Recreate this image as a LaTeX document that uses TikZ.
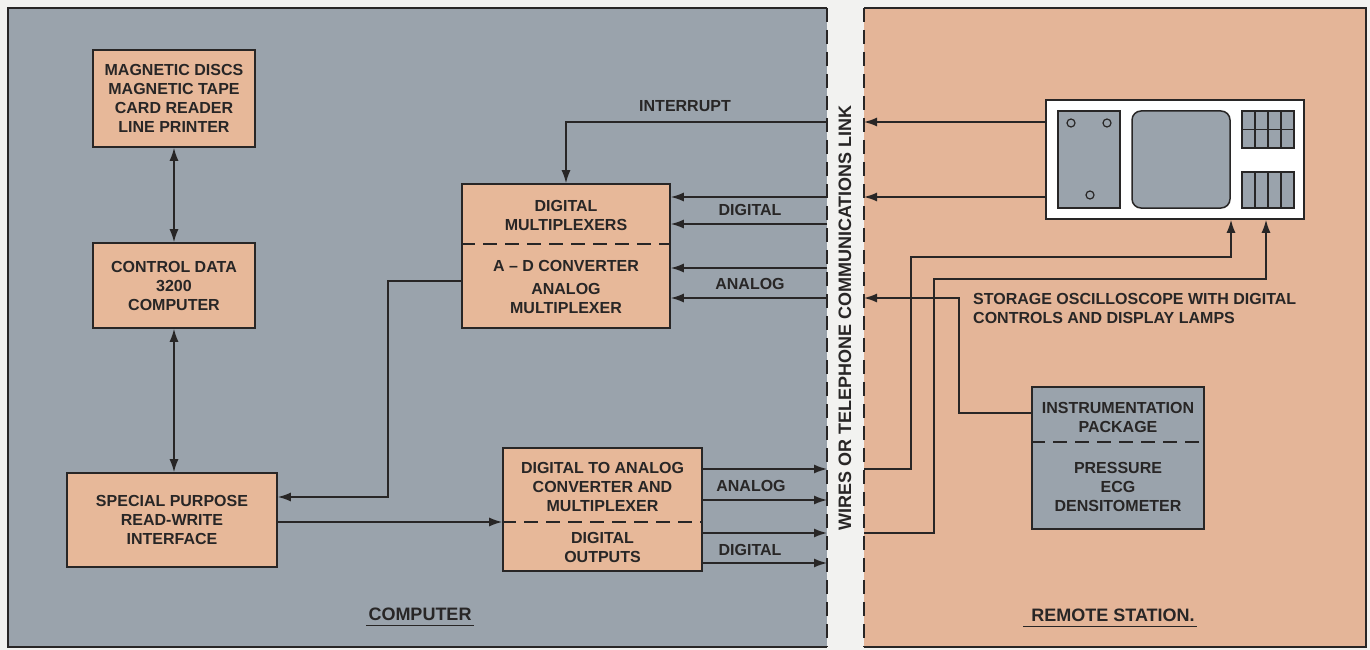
\documentclass[tikz,border=0pt]{standalone}
\usepackage{fontspec}
\setmainfont{Liberation Sans}
\usetikzlibrary{arrows.meta}
\definecolor{papel}{RGB}{242,242,240}
\definecolor{panelgris}{RGB}{154,163,172}
\definecolor{panelcanela}{RGB}{228,181,152}
\definecolor{cajacanela}{RGB}{231,184,153}
\definecolor{tinta}{RGB}{40,38,38}

\begin{document}
\begin{tikzpicture}[
    x=1pt, y=-1pt,
    every node/.style={font=\fontsize{16}{19}\selectfont\bfseries, text=tinta, inner sep=0pt, align=center},
    caja/.style={draw=tinta, fill=cajacanela, line width=1.6pt},
    linea/.style={draw=tinta, line width=1.5pt},
    flecha/.style={linea, -{Latex[length=13pt,width=9pt]}},
    doble/.style={linea, {Latex[length=13pt,width=9pt]}-{Latex[length=13pt,width=9pt]}},
    corte/.style={draw=tinta, line width=1.5pt, dash pattern=on 14pt off 8pt},
    titulo/.style={font=\fontsize{18}{21}\selectfont\bfseries}
]
    \useasboundingbox (0,0) rectangle (1370,650);
    \fill[papel] (0,0) rectangle (1370,650);

    % Paneles: computadora a la izquierda, estacion remota a la derecha
    \fill[panelgris] (8,8) rectangle (827,647);
    \draw[tinta, line width=1.6pt] (827,8) -- (8,8) -- (8,647) -- (827,647);
    \draw[corte] (827,8) -- (827,647);
    \fill[panelcanela] (864,8) rectangle (1366,647);
    \draw[tinta, line width=1.6pt] (864,8) -- (1366,8) -- (1366,647) -- (864,647);
    \draw[corte] (864,8) -- (864,647);

    % Cajas del lado de la computadora
    \node[caja, minimum width=162pt, minimum height=97pt] (discos) at (174,98.5) {MAGNETIC DISCS\\MAGNETIC TAPE\\CARD READER\\LINE PRINTER};
    \node[caja, minimum width=162pt, minimum height=85pt] (cdc) at (174,285.5) {CONTROL DATA\\3200\\COMPUTER};
    \node[caja, minimum width=210pt, minimum height=94pt] (interfaz) at (172,520) {SPECIAL PURPOSE\\READ-WRITE\\INTERFACE};

    \node[caja, minimum width=208pt, minimum height=144pt] (mux) at (566,256) {};
    \node (muxA) at (566,215) {DIGITAL\\MULTIPLEXERS};
    \node (muxB) at (566,287) {A -- D CONVERTER\\[4pt]ANALOG\\MULTIPLEXER};
    \draw[corte] (mux.west |- 0,244) -- (mux.east |- 0,244);

    \node[caja, minimum width=199pt, minimum height=123pt] (dac) at (602.5,509.5) {};
    \node (dacA) at (602.5,487) {DIGITAL TO ANALOG\\CONVERTER AND\\MULTIPLEXER};
    \node (dacB) at (602.5,547) {DIGITAL\\OUTPUTS};
    \draw[corte] (dac.west |- 0,522) -- (dac.east |- 0,522);

    % Osciloscopio de la estacion remota
    \node[caja, fill=white, minimum width=258pt, minimum height=119pt] (osc) at (1175,159.5) {};
    \draw[linea, fill=panelgris] (1058,111) rectangle (1120,208);
    \draw[tinta, line width=1.2pt] (1071,123) circle (4pt);
    \draw[tinta, line width=1.2pt] (1107,123) circle (4pt);
    \draw[tinta, line width=1.2pt] (1090,195) circle (4pt);
    \draw[linea, fill=panelgris, rounded corners=9pt] (1132,111) rectangle (1230,208);
    \draw[linea, fill=panelgris] (1242,111) rectangle (1294,148);
    \draw[tinta, line width=1.2pt] (1255,111) -- (1255,148) (1268,111) -- (1268,148) (1281,111) -- (1281,148) (1242,129.5) -- (1294,129.5);
    \draw[linea, fill=panelgris] (1242,172) rectangle (1294,208);
    \draw[tinta, line width=1.2pt] (1255,172) -- (1255,208) (1268,172) -- (1268,208) (1281,172) -- (1281,208);

    % Paquete de instrumentacion
    \node[caja, fill=panelgris, minimum width=172pt, minimum height=142pt] (instr) at (1118,458) {};
    \node (instrA) at (1118,417) {INSTRUMENTATION\\PACKAGE};
    \node (instrB) at (1118,487) {PRESSURE\\ECG\\DENSITOMETER};
    \draw[corte] (instr.west |- 0,442) -- (instr.east |- 0,442);

    % Textos
    \node (etInt) at (685,106) {INTERRUPT};
    \node (etDig1) at (750,210) {DIGITAL};
    \node (etAna1) at (750,284) {ANALOG};
    \node (etAna2) at (751,486) {ANALOG};
    \node (etDig2) at (750,550) {DIGITAL};
    \node[anchor=north west, align=left] (etOsc) at (973,293) {STORAGE OSCILLOSCOPE WITH DIGITAL\\CONTROLS AND DISPLAY LAMPS};
    \node[titulo, rotate=90] (enlace) at (845,318) {WIRES OR TELEPHONE COMMUNICATIONS LINK};
    \node[titulo] (etComp) at (420,614) {COMPUTER};
    \draw[linea] ([xshift=-2pt,yshift=-5pt]etComp.south west) -- ([xshift=2pt,yshift=-5pt]etComp.south east);
    \node[titulo] (etRem) at (1113,615) {REMOTE STATION.};
    \draw[linea] ([xshift=-8pt,yshift=-5pt]etRem.south west) -- ([xshift=2pt,yshift=-5pt]etRem.south east);

    % Extremos de las lineas en el enlace
    \coordinate (izq1) at (827,122);
    \coordinate (izq2) at (827,197);
    \coordinate (izq3) at (827,224);
    \coordinate (izq4) at (827,268);
    \coordinate (izq5) at (827,298);
    \coordinate (izq6) at (827,469);
    \coordinate (izq7) at (827,500);
    \coordinate (izq8) at (827,533);
    \coordinate (izq9) at (827,563);
    \coordinate (der1) at (864,122);
    \coordinate (der2) at (864,197);
    \coordinate (der3) at (864,298);
    \coordinate (der4) at (864,469);
    \coordinate (der5) at (864,533);

    % Conexiones de la computadora
    \draw[doble] (discos) -- (cdc);
    \draw[doble] (cdc.south) -- (cdc.south |- interfaz.north);
    \draw[flecha] (mux.west |- 0,281) -| (388,497) -- (interfaz.east |- 0,497);
    \draw[flecha] (interfaz.east |- 0,522) -- (dac.west |- 0,522);
    \draw[flecha] (izq1) -| (mux.north);
    \draw[flecha] (izq2) -- (mux.east |- izq2);
    \draw[flecha] (izq3) -- (mux.east |- izq3);
    \draw[flecha] (izq4) -- (mux.east |- izq4);
    \draw[flecha] (izq5) -- (mux.east |- izq5);
    \draw[flecha] (dac.east |- izq6) -- (izq6);
    \draw[flecha] (dac.east |- izq7) -- (izq7);
    \draw[flecha] (dac.east |- izq8) -- (izq8);
    \draw[flecha] (dac.east |- izq9) -- (izq9);

    % Conexiones de la estacion remota
    \draw[flecha] (osc.west |- der1) -- (der1);
    \draw[flecha] (osc.west |- der2) -- (der2);
    \draw[flecha] (instr.west |- 0,413) -| (959,298) -- (der3);
    \draw[flecha] (der4) -| (911,257) -| (osc.south -| 1231,0);
    \draw[flecha] (der5) -| (934,279) -| (osc.south -| 1266,0);
\end{tikzpicture}
\end{document}
